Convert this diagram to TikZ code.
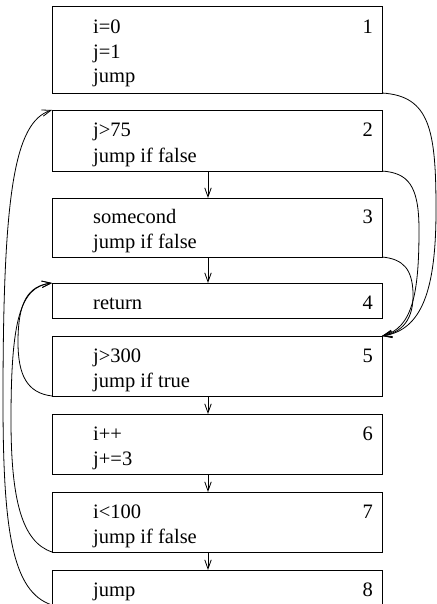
\documentclass[tikz,border=0pt]{standalone}
\usepackage{fontspec}
\setmainfont{Liberation Serif}
\usetikzlibrary{arrows.meta}

\tikzset{
  blk/.style={draw, line width=0.8pt, rectangle, inner sep=0pt, outer sep=0pt,
              minimum width=330pt, anchor=north west},
  stmt/.style={anchor=base west, inner sep=0pt,
               font=\fontsize{20.5}{25}\selectfont},
  num/.style={anchor=base east, inner sep=0pt,
              font=\fontsize{20.5}{25}\selectfont},
  flow/.style={line width=0.8pt, -{Straight Barb[length=9pt,width=6.5pt,line width=0.8pt]}},
}

\begin{document}
\begin{tikzpicture}[x=1pt,y=-1pt]
\useasboundingbox (0,0) rectangle (436,604);

% basic blocks
\node[blk, minimum height=87pt] (b1) at (52,6) {};
\node[blk, minimum height=61pt] (b2) at (52,110) {};
\node[blk, minimum height=59pt] (b3) at (52,198) {};
\node[blk, minimum height=35pt] (b4) at (52,283) {};
\node[blk, minimum height=60pt] (b5) at (52,336) {};
\node[blk, minimum height=60pt] (b6) at (52,414) {};
\node[blk, minimum height=60pt] (b7) at (52,492) {};
\node[blk, minimum height=35pt] (b8) at (52,570) {};

% block contents
\node[stmt] (s1a) at (93,34) {i=0};
\node[stmt] (s1b) at (93,59) {j=1};
\node[stmt] (s1c) at (93,83) {jump};
\node[num]  (n1)  at (373,34) {1};

\node[stmt] (s2a) at (93,137) {j>75};
\node[stmt] (s2b) at (93,163) {jump if false};
\node[num]  (n2)  at (373,137) {2};

\node[stmt] (s3a) at (93,223) {somecond};
\node[stmt] (s3b) at (93,248) {jump if false};
\node[num]  (n3)  at (373,223) {3};

\node[stmt] (s4a) at (93,309) {return};
\node[num]  (n4)  at (373,309) {4};

\node[stmt] (s5a) at (93,362) {j>300};
\node[stmt] (s5b) at (93,387) {jump if true};
\node[num]  (n5)  at (373,362) {5};

\node[stmt] (s6a) at (93,440) {i++};
\node[stmt] (s6b) at (93,465) {j+=3};
\node[num]  (n6)  at (373,440) {6};

\node[stmt] (s7a) at (93,518) {i<100};
\node[stmt] (s7b) at (93,543) {jump if false};
\node[num]  (n7)  at (373,518) {7};

\node[stmt] (s8a) at (93,596) {jump};
\node[num]  (n8)  at (373,596) {8};

% fall-through edges
\foreach \a/\b in {b2/b3, b3/b4, b5/b6, b6/b7, b7/b8}
  \draw[flow] (\a.south -| 208,0) -- (\b.north -| 208,0);

% forward jumps into block 5
\draw[flow] (b1.south east) .. controls (430,96) and (436,130) .. (436,210)
            .. controls (436,290) and (422,330) .. (b5.north east);
\draw[flow] (b2.south east) .. controls (408,173) and (419,185) .. (419,230)
            .. controls (419,295) and (412,328) .. (b5.north east);
\draw[flow] (b3.south east) .. controls (404,259) and (412,270) .. (413,292)
            .. controls (414,320) and (402,332) .. (b5.north east);

% backward jumps
\draw[flow] (b8.south west) .. controls (12,592) and (3,530) .. (3,400)
            .. controls (3,195) and (14,122) .. (b2.north west);
\draw[flow] (b7.south west) .. controls (22,542) and (11,500) .. (11,420)
            .. controls (11,320) and (20,287) .. (b4.north west);
\draw[flow] (b5.south west) .. controls (27,393) and (18,375) .. (18,342)
            .. controls (18,302) and (28,286) .. (b4.north west);
\end{tikzpicture}
\end{document}
